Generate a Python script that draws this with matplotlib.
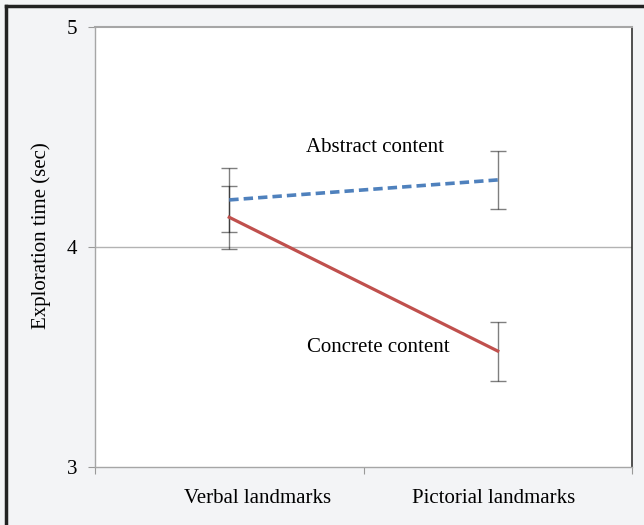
import matplotlib
matplotlib.use("Agg")
import matplotlib.pyplot as plt
from matplotlib.lines import Line2D

# mean exploration time per landmark type, with error bar half-widths
categories = ["Verbal landmarks", "Pictorial landmarks"]
abstract_mean = [4.214, 4.305]
abstract_err = [0.144, 0.13]
concrete_mean = [4.135, 3.527]
concrete_err = [0.142, 0.134]
y_ticks = [3, 4, 5]

plt.rcParams["font.family"] = ["Liberation Serif", "DejaVu Serif"]
plt.rcParams["font.size"] = 15

fig = plt.figure(figsize=(6.44, 5.25), dpi=100, facecolor="#f3f4f6")
ax = fig.add_axes([95 / 644, 1 - 467 / 525, 537 / 644, 440 / 525])
ax.set_facecolor("white")

x = [0.5, 1.5]

# error bars (semi-transparent so overlaps look darker)
ax.errorbar(x, abstract_mean, yerr=abstract_err, fmt="none", ecolor="black",
            alpha=0.5, elinewidth=1, capsize=5.5, capthick=1, zorder=3)
ax.errorbar(x, concrete_mean, yerr=concrete_err, fmt="none", ecolor="black",
            alpha=0.5, elinewidth=1, capsize=5.5, capthick=1, zorder=3)

ax.plot(x, abstract_mean, color="#4f81bd", lw=2.6, ls=(0, (2.6, 1.4)),
        zorder=4, solid_capstyle="butt")
ax.plot(x, concrete_mean, color="#c0504d", lw=2.3, zorder=4)

ax.text(1.043, 4.4545, "Abstract content", ha="center", va="center")
ax.text(1.054, 3.541, "Concrete content", ha="center", va="center")

ax.set_xlim(0, 2)
ax.set_ylim(3, 5)
ax.axhline(4, color="#b3b3b3", lw=1, zorder=1)

ax.set_yticks(y_ticks)
ax.set_yticklabels([str(t) for t in y_ticks])
ax.tick_params(axis="y", direction="out", length=5, width=0.8,
               color="#999999", pad=8)

ax.set_xticks([0, 1, 2])
ax.set_xticklabels([])
ax.tick_params(axis="x", which="major", direction="out", length=5,
               width=0.8, color="#999999")
# category labels sit slightly off the category centres, as in the original
ax.set_xticks([0.607, 1.484], minor=True)
ax.set_xticklabels(categories, minor=True)
ax.tick_params(axis="x", which="minor", length=0, pad=16)

for side in ["left", "bottom", "top"]:
    ax.spines[side].set_color("#a6a6a6")
    ax.spines[side].set_linewidth(1)
ax.spines["top"].set_linewidth(1.5)
ax.spines["right"].set_color("#333333")
ax.spines["right"].set_linewidth(1.2)

fig.text(41 / 644, 1 - 236 / 525, "Exploration time (sec)", rotation=90,
         ha="center", va="center")

# dark frame along top and left edge
fig.add_artist(Line2D([6 / 644, 1], [1 - 6 / 525, 1 - 6 / 525],
                      color="#222222", lw=2.5, transform=fig.transFigure))
fig.add_artist(Line2D([6 / 644, 6 / 644], [0, 1 - 6 / 525],
                      color="#222222", lw=2.5, transform=fig.transFigure))

fig.savefig("out.png", dpi=100, facecolor=fig.get_facecolor())
